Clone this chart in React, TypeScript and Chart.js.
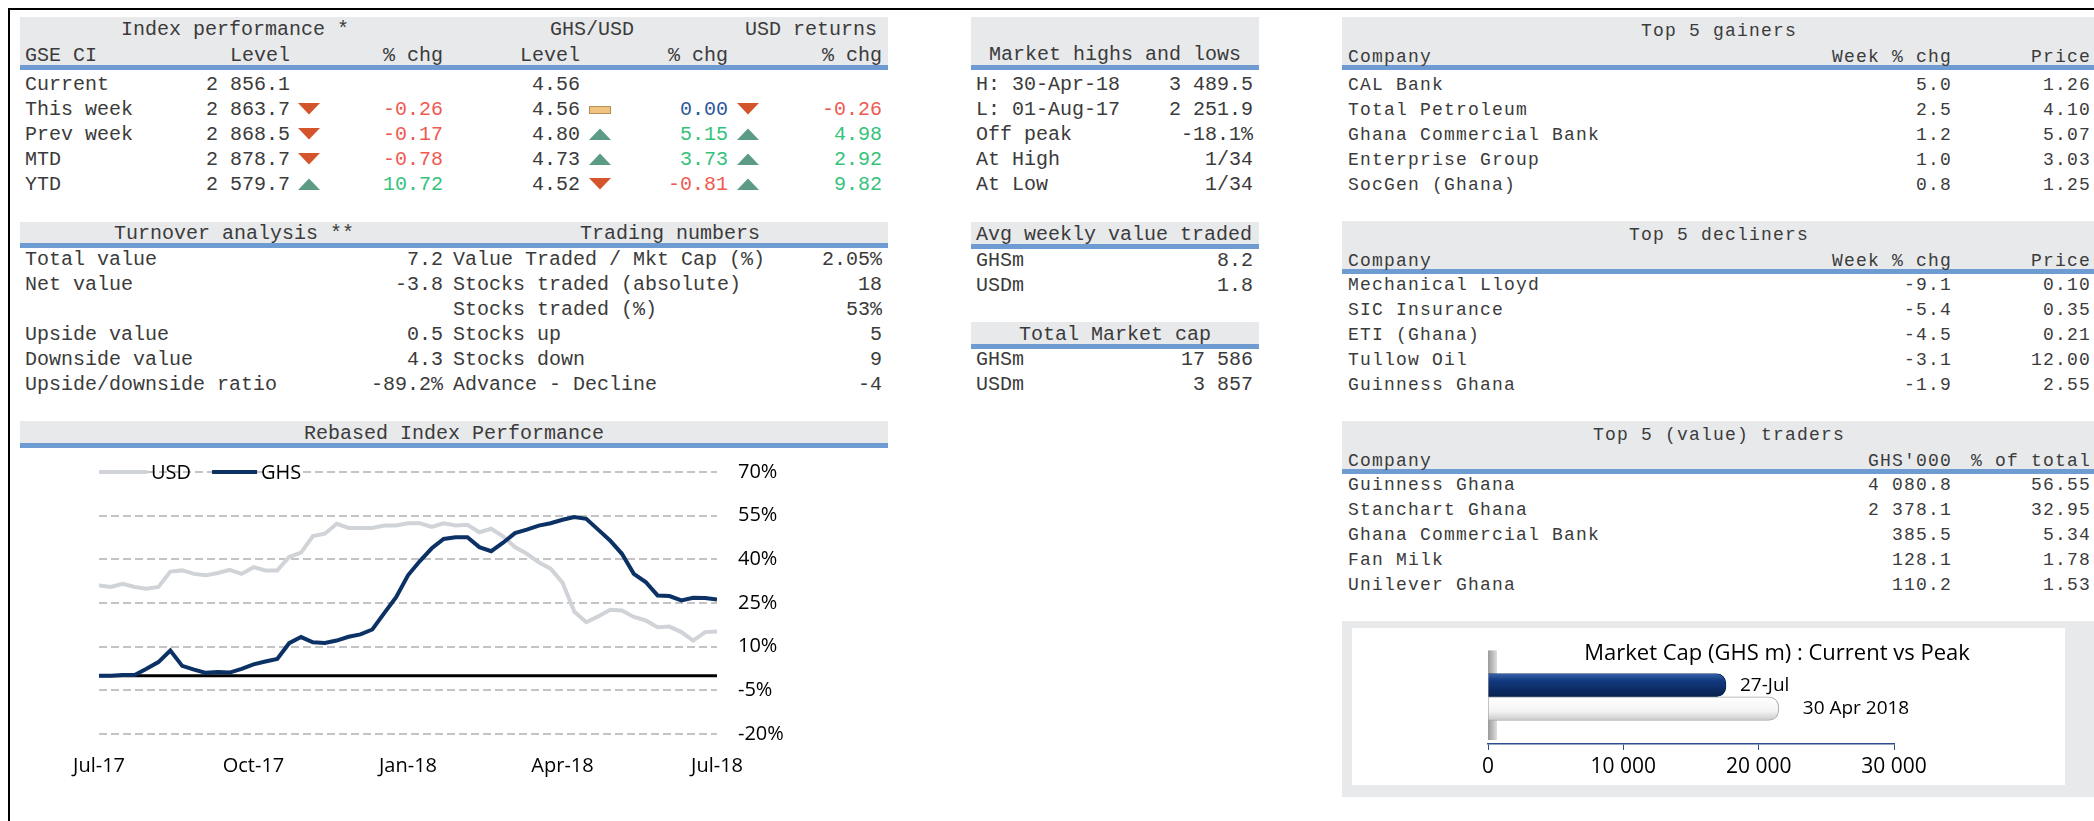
import React, { useEffect, useRef } from 'react';
import { Chart, registerables } from 'chart.js';
Chart.register(...registerables);

const MONO = "'Liberation Mono', 'Courier New', monospace";
const SANS = "'Open Sans', 'Noto Sans', sans-serif";
const INK = '#3b3b3b';
const RED = '#ef5a52';
const GREEN = '#35c27b';
const BLUE = '#2b5797';
const HEAD_GRAY = '#e8e9eb';
const HEAD_BLUE = '#6e9bd1';

// ---- Index performance table ----
const idxRowLabels = ['Current', 'This week', 'Prev week', 'MTD', 'YTD'];
const idxLevels = ['2 856.1', '2 863.7', '2 868.5', '2 878.7', '2 579.7'];
const idxArrows = ['', 'down', 'down', 'down', 'up'];
const idxChg = ['', '-0.26', '-0.17', '-0.78', '10.72'];
const fxLevels = ['4.56', '4.56', '4.80', '4.73', '4.52'];
const fxArrows = ['', 'flat', 'up', 'up', 'down'];
const fxChg = ['', '0.00', '5.15', '3.73', '-0.81'];
const usdArrows = ['', 'down', 'up', 'up', 'up'];
const usdChg = ['', '-0.26', '4.98', '2.92', '9.82'];

// ---- Turnover / trading ----
const turnoverLabels = ['Total value', 'Net value', '', 'Upside value', 'Downside value', 'Upside/downside ratio'];
const turnoverValues = ['7.2', '-3.8', '', '0.5', '4.3', '-89.2%'];
const tradingLabels = ['Value Traded / Mkt Cap (%)', 'Stocks traded (absolute)', 'Stocks traded (%)', 'Stocks up', 'Stocks down', 'Advance - Decline'];
const tradingValues = ['2.05%', '18', '53%', '5', '9', '-4'];

// ---- Middle column ----
const hlLabels = ['H: 30-Apr-18', 'L: 01-Aug-17', 'Off peak', 'At High', 'At Low'];
const hlValues = ['3 489.5', '2 251.9', '-18.1%', '1/34', '1/34'];
const avgLabels = ['GHSm', 'USDm'];
const avgValues = ['8.2', '1.8'];
const capTblLabels = ['GHSm', 'USDm'];
const capTblValues = ['17 586', '3 857'];

// ---- Right column ----
const gainers = ['CAL Bank', 'Total Petroleum', 'Ghana Commercial Bank', 'Enterprise Group', 'SocGen (Ghana)'];
const gainersChg = ['5.0', '2.5', '1.2', '1.0', '0.8'];
const gainersPrice = ['1.26', '4.10', '5.07', '3.03', '1.25'];
const decliners = ['Mechanical Lloyd', 'SIC Insurance', 'ETI (Ghana)', 'Tullow Oil', 'Guinness Ghana'];
const declinersChg = ['-9.1', '-5.4', '-4.5', '-3.1', '-1.9'];
const declinersPrice = ['0.10', '0.35', '0.21', '12.00', '2.55'];
const traders = ['Guinness Ghana', 'Stanchart Ghana', 'Ghana Commercial Bank', 'Fan Milk', 'Unilever Ghana'];
const tradersValue = ['4 080.8', '2 378.1', '385.5', '128.1', '110.2'];
const tradersPct = ['56.55', '32.95', '5.34', '1.78', '1.53'];

// ---- Rebased index chart (weekly, Jul-17 .. Jul-18) ----
const xTickLabels = ['Jul-17', 'Oct-17', 'Jan-18', 'Apr-18', 'Jul-18'];
const usdRebased = [31.0, 30.5, 31.6, 30.5, 29.9, 30.5, 35.8, 36.2, 35.0, 34.5, 35.3, 36.4, 35.0, 37.3, 36.2, 36.2, 40.8, 42.3, 48.0, 48.8, 52.2, 50.8, 50.8, 50.8, 51.6, 51.6, 52.4, 52.4, 51.1, 52.4, 51.6, 51.9, 49.3, 50.5, 47.9, 44.2, 41.9, 39.0, 36.8, 32.0, 22.0, 18.4, 20.4, 22.7, 22.4, 20.2, 19.0, 16.7, 16.9, 15.0, 12.1, 15.0, 15.2];
const ghsRebased = [0, 0, 0.3, 0.3, 2.4, 4.7, 8.7, 3.4, 2.1, 1.0, 1.3, 1.1, 2.4, 3.9, 4.9, 5.8, 11.2, 13.3, 11.5, 11.3, 12.1, 13.4, 14.2, 15.9, 21.5, 27.0, 34.5, 39.4, 43.8, 47.0, 47.6, 47.6, 44.2, 42.8, 45.7, 49.0, 50.2, 51.6, 52.4, 53.6, 54.5, 53.9, 50.2, 46.5, 41.9, 35.0, 32.2, 27.6, 27.4, 25.9, 26.8, 26.7, 26.2];
const yTickMin = -20;
const yTickMax = 70;
const yTickStep = 15;

// ---- Market cap bar chart ----
const capTitle = 'Market Cap (GHS m) : Current vs Peak';
const capLabels = ['27-Jul', '30 Apr 2018', ''];
const capValues = [17586, 21486];
const capTicks = [0, 10000, 20000, 30000];

function Txt(props: { x: number; y: number; text: string; align?: string; color?: string; size?: number; font?: string; ls?: number }) {
  const { x, y, text, align = 'left', color = INK, size = 20, font = MONO, ls = 0 } = props;
  const style: any = {
    position: 'absolute', top: y - 11, height: 26, lineHeight: '26px', fontFamily: font, fontSize: size,
    color, whiteSpace: 'pre', letterSpacing: ls ? ls + 'px' : 'normal',
  };
  if (align === 'left') style.left = x;
  else if (align === 'right') style.right = 2094 - x;
  else { style.left = x - 400; style.width = 800; style.textAlign = 'center'; }
  return <div style={style}>{text}</div>;
}

function Rect(props: { x: number; y: number; w: number; h: number; c: string }) {
  return <div style={{ position: 'absolute', left: props.x, top: props.y, width: props.w, height: props.h, background: props.c }} />;
}

function Header(props: { x: number; y: number; w: number; h: number }) {
  return (
    <>
      <Rect x={props.x} y={props.y} w={props.w} h={props.h} c={HEAD_GRAY} />
      <Rect x={props.x} y={props.y + props.h} w={props.w} h={5} c={HEAD_BLUE} />
    </>
  );
}

function Icon(props: { kind: string; x: number; y: number }) {
  const { kind, x, y } = props;
  if (!kind) return null;
  if (kind === 'flat') {
    return (
      <svg style={{ position: 'absolute', left: x, top: y - 2 }} width={22} height={8}>
        <rect x={0.5} y={0.5} width={21} height={7} fill="#f0c37e" stroke="#b48f57" />
      </svg>
    );
  }
  const pts = kind === 'down' ? '0,0 22,0 11,11.5' : '0,12 22,12 11,0.5';
  return (
    <svg style={{ position: 'absolute', left: x, top: y - 5 }} width={22} height={12}>
      <polygon points={pts} fill={kind === 'down' ? '#d4542c' : '#5c9c85'} />
    </svg>
  );
}

function numColor(s: string) {
  const n = parseFloat(s);
  if (n < 0) return RED;
  if (n > 0) return GREEN;
  return BLUE;
}

function RebasedChart() {
  const ref = useRef<HTMLCanvasElement>(null);
  useEffect(() => {
    const zeroLine = {
      id: 'zeroLine',
      beforeDatasetsDraw(chart: any) {
        const { ctx, chartArea, scales } = chart;
        const y = scales.y.getPixelForValue(0);
        ctx.save();
        ctx.strokeStyle = '#000';
        ctx.lineWidth = 3;
        ctx.beginPath();
        ctx.moveTo(chartArea.left, y);
        ctx.lineTo(chartArea.right, y);
        ctx.stroke();
        ctx.restore();
      },
    };
    const lineLegend = {
      id: 'lineLegend',
      afterDatasetsDraw(chart: any) {
        const { ctx, chartArea } = chart;
        const y = chartArea.top;
        let x = chartArea.left;
        ctx.save();
        ctx.font = `20px ${SANS}`;
        ctx.textBaseline = 'middle';
        ctx.fillStyle = '#000';
        chart.data.datasets.forEach((ds: any, i: number) => {
          const len = i === 0 ? 48 : 45;
          ctx.strokeStyle = ds.borderColor;
          ctx.lineWidth = 4;
          ctx.beginPath();
          ctx.moveTo(x, y);
          ctx.lineTo(x + len, y);
          ctx.stroke();
          x += len + 4;
          ctx.fillText(ds.label, x, y + 1);
          x += ctx.measureText(ds.label).width + 21;
        });
        ctx.restore();
      },
    };
    const chart = new Chart(ref.current as HTMLCanvasElement, {
      type: 'line',
      data: {
        datasets: [
          { label: 'USD', data: usdRebased.map((v, i) => ({ x: i, y: v })), borderColor: '#d0d3d7', backgroundColor: '#d0d3d7', borderWidth: 4, pointRadius: 0, tension: 0, order: 1 },
          { label: 'GHS', data: ghsRebased.map((v, i) => ({ x: i, y: v })), borderColor: '#0b3165', backgroundColor: '#0b3165', borderWidth: 4, pointRadius: 0, tension: 0, order: 0 },
        ],
      },
      options: {
        animation: false,
        responsive: false,
        maintainAspectRatio: false,
        layout: { padding: { left: 79, top: 22, right: 0, bottom: 0 } },
        plugins: { legend: { display: false }, tooltip: { enabled: false } },
        scales: {
          x: {
            type: 'linear', min: 0, max: ghsRebased.length - 1,
            grid: { display: false, drawTicks: false },
            border: { display: false },
            ticks: {
              stepSize: (ghsRebased.length - 1) / (xTickLabels.length - 1), autoSkip: false, maxRotation: 0, padding: 20,
              font: { family: SANS, size: 20 }, color: '#000',
              callback: (v: any) => xTickLabels[Math.round(Number(v) / ((ghsRebased.length - 1) / (xTickLabels.length - 1)))] ?? '',
            },
            afterFit: (s: any) => { s.height = 66; },
          },
          y: {
            position: 'right', min: yTickMin, max: yTickMax,
            grid: { color: '#c4c4c4', lineWidth: 2, drawTicks: true, tickLength: 21, tickColor: 'rgba(0,0,0,0)' },
            border: { display: false, dash: [8, 4] },
            ticks: { stepSize: yTickStep, padding: 0, font: { family: SANS, size: 20 }, color: '#000', callback: (v: any) => v + '%' },
            afterFit: (s: any) => { s.width = 171; },
          },
        },
      } as any,
      plugins: [zeroLine, lineLegend],
    });
    return () => chart.destroy();
  }, []);
  return <canvas ref={ref} width={868} height={350} style={{ position: 'absolute', left: 20, top: 450, width: 868, height: 350 }} />;
}

function MarketCapChart() {
  const ref = useRef<HTMLCanvasElement>(null);
  useEffect(() => {
    const wall = {
      id: 'wall',
      beforeDatasetsDraw(chart: any) {
        const { ctx, chartArea } = chart;
        ctx.save();
        const g = ctx.createLinearGradient(chartArea.left, 0, chartArea.left + 9, 0);
        g.addColorStop(0, '#9a9a9a');
        g.addColorStop(1, '#dedede');
        ctx.fillStyle = g;
        ctx.fillRect(chartArea.left, chartArea.top - 23, 9, chartArea.height + 19);
        ctx.restore();
      },
    };
    const labelGaps = [14, 24];
    const barLabels = {
      id: 'barLabels',
      afterDatasetsDraw(chart: any) {
        const { ctx } = chart;
        const meta = chart.getDatasetMeta(0);
        ctx.save();
        ctx.font = `19px ${SANS}`;
        ctx.fillStyle = '#000';
        ctx.textBaseline = 'middle';
        ctx.textAlign = 'left';
        meta.data.forEach((el: any, i: number) => {
          ctx.fillText(chart.data.labels[i], el.x + labelGaps[i], el.y);
        });
        ctx.restore();
      },
    };
    const barFill = (c: any) => {
      const chart = c.chart;
      const area = chart.chartArea;
      const fallback = c.dataIndex === 0 ? '#0d2f6e' : '#f5f5f5';
      if (!area) return fallback;
      const band = area.height / chart.data.labels.length;
      const top = area.top + band * c.dataIndex;
      const g = chart.ctx.createLinearGradient(0, top, 0, top + band);
      if (c.dataIndex === 0) {
        g.addColorStop(0, '#3a64ad');
        g.addColorStop(0.3, '#123a80');
        g.addColorStop(1, '#081f4c');
      } else {
        g.addColorStop(0, '#ffffff');
        g.addColorStop(0.6, '#f4f4f4');
        g.addColorStop(1, '#c9c9c9');
      }
      return g;
    };
    const chart = new Chart(ref.current as HTMLCanvasElement, {
      type: 'bar',
      data: {
        labels: capLabels,
        datasets: [{
          data: capValues,
          backgroundColor: barFill,
          borderColor: ['#0a2658', '#a8a8a8'],
          borderWidth: 1,
          borderRadius: 10,
          borderSkipped: 'start',
          barPercentage: 1,
          categoryPercentage: 1,
        }],
      },
      options: {
        indexAxis: 'y',
        animation: false,
        responsive: false,
        maintainAspectRatio: false,
        layout: { padding: { left: 136, right: 0, top: 0, bottom: 0 } },
        plugins: {
          legend: { display: false },
          tooltip: { enabled: false },
          title: { display: true, text: capTitle, font: { family: SANS, size: 22, weight: 'normal' }, color: '#000', padding: { top: 13, bottom: 6 } },
        },
        scales: {
          x: {
            min: capTicks[0], max: capTicks[capTicks.length - 1],
            ticks: {
              stepSize: capTicks[1] - capTicks[0], padding: 4, font: { family: SANS, size: 21 }, color: '#000',
              callback: (v: any) => String(v).replace(/\B(?=(\d{3})+(?!\d))/g, ' '),
            },
            grid: { drawOnChartArea: false, drawTicks: true, tickLength: 6, color: '#2c4f8c' },
            border: { color: '#2c4f8c', width: 1.5 },
            afterFit: (s: any) => { s.height = 41; },
          },
          y: {
            position: 'right',
            grid: { display: false },
            border: { display: false },
            ticks: { display: false },
            afterFit: (s: any) => { s.width = 172; },
          },
        },
      } as any,
      plugins: [wall, barLabels],
    });
    return () => chart.destroy();
  }, []);
  return <canvas ref={ref} width={714} height={157} style={{ position: 'absolute', left: 1352, top: 628, width: 714, height: 157 }} />;
}

const rowsTop = [83, 108, 133, 158, 183];
const RS = 18; // right column font size
const RLS = 1.2;

export default function App() {
  return (
    <div style={{ position: 'absolute', left: 0, top: 0, width: 2094, height: 821, overflow: 'hidden', background: '#fff' }}>
      <div style={{ position: 'absolute', left: 8, top: 8, width: 2200, height: 900, borderTop: '2px solid #000', borderLeft: '2px solid #000' }} />

      {/* Index performance */}
      <Header x={20} y={17} w={868} h={48} />
      <Txt x={121} y={28} text="Index performance *" />
      <Txt x={550} y={28} text="GHS/USD" />
      <Txt x={745} y={28} text="USD returns" />
      <Txt x={25} y={54} text="GSE CI" />
      <Txt x={290} y={54} align="right" text="Level" />
      <Txt x={443} y={54} align="right" text="% chg" />
      <Txt x={580} y={54} align="right" text="Level" />
      <Txt x={728} y={54} align="right" text="% chg" />
      <Txt x={882} y={54} align="right" text="% chg" />
      {idxRowLabels.map((l, i) => (
        <React.Fragment key={'ip' + i}>
          <Txt x={25} y={rowsTop[i]} text={l} />
          <Txt x={290} y={rowsTop[i]} align="right" text={idxLevels[i]} />
          <Icon kind={idxArrows[i]} x={298} y={rowsTop[i]} />
          {idxChg[i] && <Txt x={443} y={rowsTop[i]} align="right" text={idxChg[i]} color={numColor(idxChg[i])} />}
          <Txt x={580} y={rowsTop[i]} align="right" text={fxLevels[i]} />
          <Icon kind={fxArrows[i]} x={589} y={rowsTop[i]} />
          {fxChg[i] && <Txt x={728} y={rowsTop[i]} align="right" text={fxChg[i]} color={numColor(fxChg[i])} />}
          <Icon kind={usdArrows[i]} x={737} y={rowsTop[i]} />
          {usdChg[i] && <Txt x={882} y={rowsTop[i]} align="right" text={usdChg[i]} color={numColor(usdChg[i])} />}
        </React.Fragment>
      ))}

      {/* Turnover / Trading */}
      <Header x={20} y={222} w={868} h={21} />
      <Txt x={234} y={232} align="center" text="Turnover analysis **" />
      <Txt x={670} y={232} align="center" text="Trading numbers" />
      {turnoverLabels.map((l, i) => (
        <React.Fragment key={'to' + i}>
          <Txt x={25} y={258 + i * 25} text={l} />
          <Txt x={443} y={258 + i * 25} align="right" text={turnoverValues[i]} />
          <Txt x={453} y={258 + i * 25} text={tradingLabels[i]} />
          <Txt x={882} y={258 + i * 25} align="right" text={tradingValues[i]} />
        </React.Fragment>
      ))}

      {/* Rebased chart */}
      <Header x={20} y={421} w={868} h={22} />
      <Txt x={454} y={432} align="center" text="Rebased Index Performance" />
      <RebasedChart />

      {/* Middle column */}
      <Header x={971} y={17} w={288} h={48} />
      <Txt x={1115} y={53} align="center" text="Market highs and lows" />
      {hlLabels.map((l, i) => (
        <React.Fragment key={'hl' + i}>
          <Txt x={976} y={rowsTop[i]} text={l} />
          <Txt x={1253} y={rowsTop[i]} align="right" text={hlValues[i]} />
        </React.Fragment>
      ))}
      <Header x={971} y={222} w={288} h={22} />
      <Txt x={976} y={233} text="Avg weekly value traded" />
      {avgLabels.map((l, i) => (
        <React.Fragment key={'av' + i}>
          <Txt x={976} y={259 + i * 25} text={l} />
          <Txt x={1253} y={259 + i * 25} align="right" text={avgValues[i]} />
        </React.Fragment>
      ))}
      <Header x={971} y={322} w={288} h={22} />
      <Txt x={1115} y={333} align="center" text="Total Market cap" />
      {capTblLabels.map((l, i) => (
        <React.Fragment key={'mc' + i}>
          <Txt x={976} y={358 + i * 25} text={l} />
          <Txt x={1253} y={358 + i * 25} align="right" text={capTblValues[i]} />
        </React.Fragment>
      ))}

      {/* Right column: gainers */}
      <Header x={1342} y={17} w={760} h={48} />
      <Txt x={1719} y={29} align="center" text="Top 5 gainers" size={RS} ls={RLS} />
      <Txt x={1348} y={55} text="Company" size={RS} ls={RLS} />
      <Txt x={1952} y={55} align="right" text="Week % chg" size={RS} ls={RLS} />
      <Txt x={2091} y={55} align="right" text="Price" size={RS} ls={RLS} />
      {gainers.map((l, i) => (
        <React.Fragment key={'g' + i}>
          <Txt x={1348} y={rowsTop[i]} text={l} size={RS} ls={RLS} />
          <Txt x={1952} y={rowsTop[i]} align="right" text={gainersChg[i]} size={RS} ls={RLS} />
          <Txt x={2091} y={rowsTop[i]} align="right" text={gainersPrice[i]} size={RS} ls={RLS} />
        </React.Fragment>
      ))}

      {/* decliners */}
      <Header x={1342} y={221} w={760} h={48} />
      <Txt x={1719} y={233} align="center" text="Top 5 decliners" size={RS} ls={RLS} />
      <Txt x={1348} y={259} text="Company" size={RS} ls={RLS} />
      <Txt x={1952} y={259} align="right" text="Week % chg" size={RS} ls={RLS} />
      <Txt x={2091} y={259} align="right" text="Price" size={RS} ls={RLS} />
      {decliners.map((l, i) => (
        <React.Fragment key={'d' + i}>
          <Txt x={1348} y={283 + i * 25} text={l} size={RS} ls={RLS} />
          <Txt x={1952} y={283 + i * 25} align="right" text={declinersChg[i]} size={RS} ls={RLS} />
          <Txt x={2091} y={283 + i * 25} align="right" text={declinersPrice[i]} size={RS} ls={RLS} />
        </React.Fragment>
      ))}

      {/* traders */}
      <Header x={1342} y={421} w={760} h={48} />
      <Txt x={1719} y={433} align="center" text="Top 5 (value) traders" size={RS} ls={RLS} />
      <Txt x={1348} y={459} text="Company" size={RS} ls={RLS} />
      <Txt x={1952} y={459} align="right" text="GHS'000" size={RS} ls={RLS} />
      <Txt x={2091} y={459} align="right" text="% of total" size={RS} ls={RLS} />
      {traders.map((l, i) => (
        <React.Fragment key={'t' + i}>
          <Txt x={1348} y={483 + i * 25} text={l} size={RS} ls={RLS} />
          <Txt x={1952} y={483 + i * 25} align="right" text={tradersValue[i]} size={RS} ls={RLS} />
          <Txt x={2091} y={483 + i * 25} align="right" text={tradersPct[i]} size={RS} ls={RLS} />
        </React.Fragment>
      ))}

      {/* Market cap chart */}
      <Rect x={1342} y={621} w={760} h={176} c={HEAD_GRAY} />
      <Rect x={1352} y={628} w={713} h={157} c="#ffffff" />
      <MarketCapChart />
    </div>
  );
}
